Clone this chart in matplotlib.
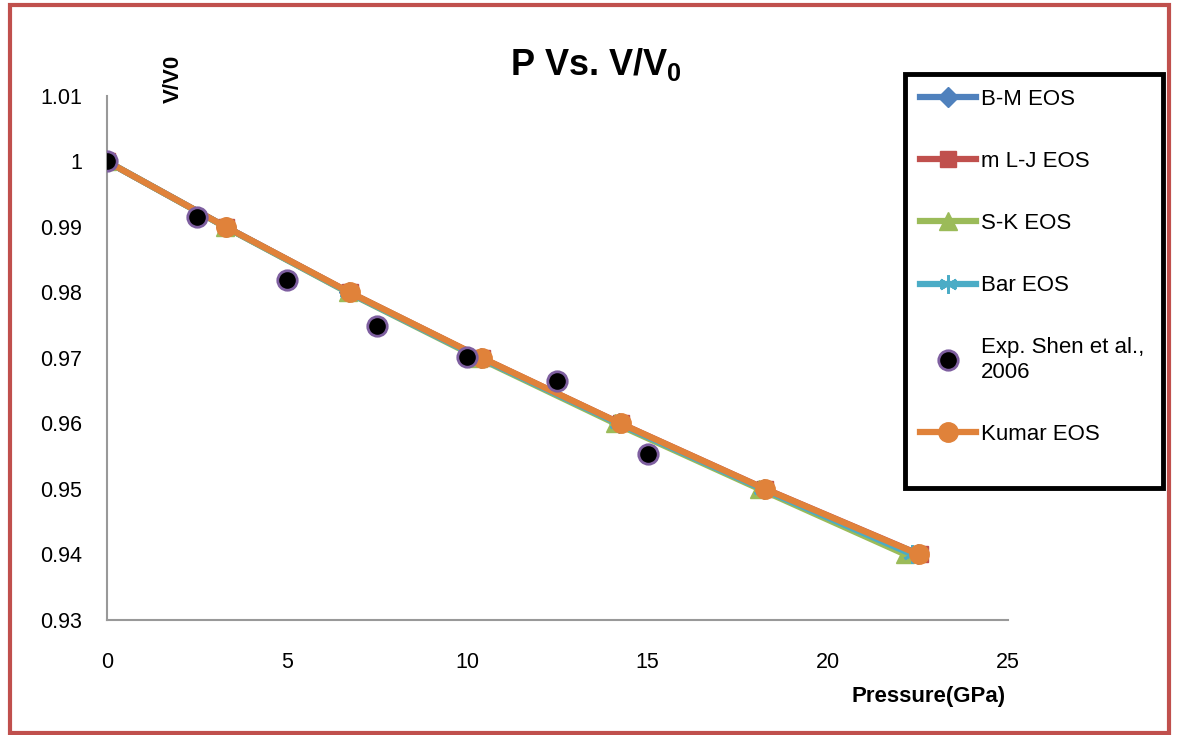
import numpy as np
import matplotlib
matplotlib.use("Agg")
import matplotlib.pyplot as plt
from matplotlib.patches import Rectangle

plt.rcParams['font.family'] = ['Liberation Sans', 'DejaVu Sans']
plt.rcParams['mathtext.fontset'] = 'custom'
plt.rcParams['mathtext.bf'] = 'Liberation Sans:bold'
plt.rcParams['mathtext.rm'] = 'Liberation Sans:bold'

# data
vv0 = [1.0, 0.99, 0.98, 0.97, 0.96, 0.95, 0.94]
p_bm = [0, 3.30, 6.72, 10.38, 14.22, 18.22, 22.50]
p_mlj = [0, 3.30, 6.73, 10.40, 14.25, 18.27, 22.55]
p_sk = [0, 3.28, 6.68, 10.30, 14.10, 18.10, 22.15]
p_bar = [0, 3.29, 6.70, 10.35, 14.18, 18.18, 22.35]
p_kumar = [0, 3.30, 6.74, 10.41, 14.25, 18.26, 22.53]
p_exp = [0, 2.5, 5, 7.5, 10, 12.5, 15]
v_exp = [1.0, 0.9915, 0.9819, 0.9749, 0.9702, 0.9665, 0.9554]

fig = plt.figure(figsize=(11.77, 7.35), dpi=100)
ax = fig.add_axes([0.0909, 0.1565, 0.7655, 0.7129])

lw = 4.5
ax.plot(p_bm, vv0, color='#4F81BD', lw=lw, marker='D', ms=10, label='B-M EOS')
ax.plot(p_mlj, vv0, color='#C0504D', lw=lw, marker='s', ms=12, label='m L-J EOS')
ax.plot(p_sk, vv0, color='#9BBB59', lw=lw, marker='^', ms=13, label='S-K EOS')
ax.plot(p_bar, vv0, color='#4BACC6', lw=lw, marker=(6, 2, 0), ms=13, mew=2, label='Bar EOS')
ax.plot(p_exp, v_exp, ls='none', marker='o', ms=14, color='black', mec='#7E5FA0', mew=2,
        label='Exp. Shen et al.,\n2006', zorder=5)
ax.plot(p_kumar, vv0, color='#E0823A', lw=lw, marker='o', ms=14, label='Kumar EOS', zorder=4)

ax.set_xlim(0, 25)
ax.set_ylim(0.93, 1.01)
ax.set_xticks(np.arange(0, 26, 5))
ax.set_yticks(np.arange(0.93, 1.0101, 0.01))
ax.set_yticklabels(['0.93', '0.94', '0.95', '0.96', '0.97', '0.98', '0.99', '1', '1.01'])
ax.tick_params(length=0, labelsize=15.5)
ax.tick_params(axis='y', pad=18)
ax.tick_params(axis='x', pad=23)
for s in ['top', 'right']:
    ax.spines[s].set_visible(False)
for s in ['left', 'bottom']:
    ax.spines[s].set_color('#999999')
    ax.spines[s].set_linewidth(1.5)

fig.text(0.506, 0.912, r'P Vs. V/V$_\mathbf{0}$', fontsize=26, fontweight='bold',
         ha='center', va='center')
fig.text(0.147, 0.893, 'V/V0', rotation=90, fontsize=16, fontweight='bold', ha='center', va='center')
fig.text(0.789, 0.052, 'Pressure(GPa)', fontsize=16, fontweight='bold', ha='center', va='center')

leg = fig.legend(loc='upper left', bbox_to_anchor=(0.776, 0.888), fontsize=16,
                 frameon=False, handlelength=2.5, handletextpad=0.25,
                 labelspacing=1.85, borderpad=0.3, borderaxespad=0)

# legend box
fig.patches.append(Rectangle((905 / 1177, 1 - 488 / 735), 258 / 1177, 414 / 735,
                             transform=fig.transFigure, fill=False, edgecolor='black', lw=3.5))
# outer frame
fig.patches.append(Rectangle((0.0085, 0.003), 0.985, 0.99, transform=fig.transFigure,
                             fill=False, edgecolor='#C0504D', lw=3))

fig.savefig('out.png', dpi=100)
